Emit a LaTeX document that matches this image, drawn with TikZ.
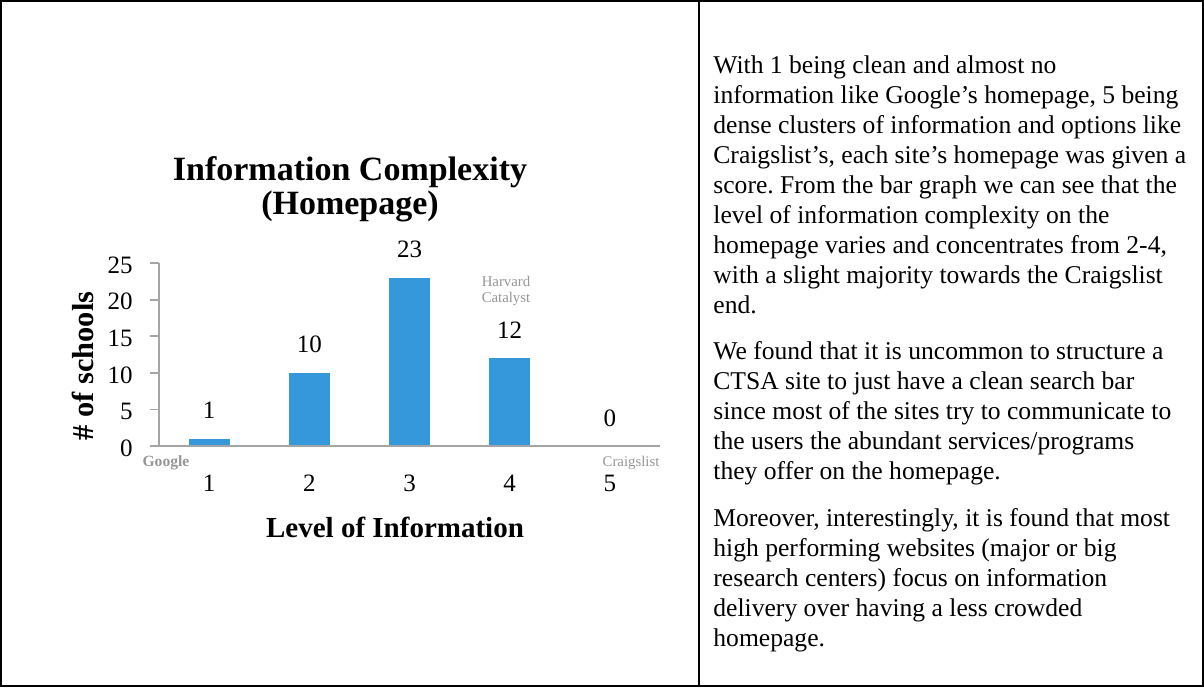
\documentclass[tikz,border=0pt]{standalone}
\usepackage{fontspec}
\setmainfont{Liberation Serif}
\frenchspacing
\usetikzlibrary{positioning}
\definecolor{barblue}{RGB}{53,152,219}
\definecolor{axisgray}{RGB}{165,165,165}
\definecolor{notegray}{RGB}{150,150,150}

\begin{document}
\begin{tikzpicture}[
  x=0.5pt, y=-0.5pt,
  frame/.style={draw, line width=1pt},
  bar/.style={fill=barblue, draw=none},
  axis/.style={draw=axisgray, line width=0.9pt},
  numlabel/.style={font=\fontsize{12.5}{14}\selectfont, inner sep=0pt},
  axislabel/.style={font=\fontsize{14.5}{16}\selectfont\bfseries, inner sep=0pt},
  note/.style={text=notegray, font=\fontsize{7.4}{8.4}\selectfont, inner sep=0pt, align=center},
  para/.style={anchor=base west, align=left, inner sep=0pt, font=\fontsize{12.8}{15}\selectfont}
]
\useasboundingbox (0,0) rectangle (1204,687);
\draw[frame] (1,1) rectangle (1203,686);
\draw[frame] (698.5,1) -- (698.5,686);

\node[font=\fontsize{17}{17}\selectfont\bfseries, align=center, anchor=base, inner sep=0pt]
  (title) at (350,214) {Information Complexity\\(Homepage)};

\foreach \v in {0,5,...,25} {
  \draw[axis] (150,446-7.32*\v) -- (159,446-7.32*\v);
  \node[numlabel, anchor=east] (tick\v) at (133,448-7.32*\v) {\v};
}
\foreach \lvl/\cnt in {1/1,2/10,3/23,4/12,5/0} {
  \pgfmathsetmacro\cx{159+100.2*(\lvl-0.5)}
  \pgfmathsetmacro\bartop{446-7.32*\cnt}
  \fill[bar] (\cx-20.5,446) rectangle (\cx+20.5,\bartop);
  \node[numlabel, anchor=base] (val\lvl) at (\cx,\bartop-20) {\cnt};
  \node[numlabel, anchor=base] (lvl\lvl) at (\cx,491) {\lvl};
}
\draw[axis] (159,263) -- (159,446) -- (660,446);

\node[axislabel, rotate=90, font=\fontsize{15.2}{16}\selectfont\bfseries] (ylabel) at (83,366) {\# of schools};
\node[axislabel, anchor=base] (xlabel) at (395,537) {Level of Information};

\node[note, font=\fontsize{7.8}{8.8}\selectfont\bfseries] (google) at (166,463) {Google};
\node[note] (craigslist) at (631,463) {Craigslist};
\node[note] (harvard) at (506,291) {Harvard\\Catalyst};

\node[para] (para1) at (713,313) {With 1 being clean and almost no\\
information like Google’s homepage, 5 being\\
dense clusters of information and options like\\
Craigslist’s, each site’s homepage was given a\\
score. From the bar graph we can see that the\\
level of information complexity on the\\
homepage varies and concentrates from 2-4,\\
with a slight majority towards the Craigslist\\
end.};
\node[para] (para2) at (713,479) {We found that it is uncommon to structure a\\
CTSA site to just have a clean search bar\\
since most of the sites try to communicate to\\
the users the abundant services/programs\\
they offer on the homepage.};
\node[para] (para3) at (713,646) {Moreover, interestingly, it is found that most\\
high performing websites (major or big\\
research centers) focus on information\\
delivery over having a less crowded\\
homepage.};
\end{tikzpicture}
\end{document}
